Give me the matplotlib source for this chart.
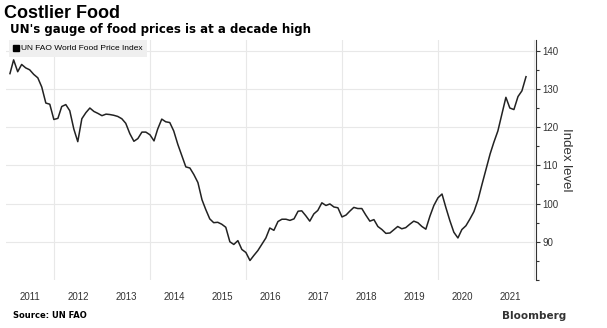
import numpy as np
import pandas as pd
import matplotlib
matplotlib.use("Agg")
import matplotlib.pyplot as plt
import matplotlib.dates as mdates
from matplotlib.lines import Line2D
from matplotlib.ticker import FixedLocator

# FAO Food Price Index, monthly, Jan 2011 - Oct 2021
idx_2011 = [134.0, 137.6, 134.5, 136.4, 135.5, 135.0, 133.8, 132.9, 130.5, 126.3, 126.0, 122.0]
idx_2012 = [122.3, 125.4, 125.9, 124.3, 119.5, 116.2, 122.2, 123.8, 125.0, 124.1, 123.6, 123.0]
idx_2013 = [123.4, 123.3, 123.1, 122.8, 122.2, 121.0, 118.3, 116.3, 117.0, 118.7, 118.7, 118.0]
idx_2014 = [116.4, 119.5, 122.1, 121.4, 121.2, 119.0, 115.5, 112.5, 109.6, 109.3, 107.6, 105.5]
idx_2015 = [101.0, 98.5, 96.0, 95.0, 95.1, 94.6, 93.8, 90.0, 89.3, 90.3, 88.0, 87.2]
idx_2016 = [85.1, 86.4, 87.7, 89.3, 91.0, 93.6, 93.0, 95.3, 95.9, 95.9, 95.6, 96.0]
idx_2017 = [98.0, 98.1, 96.8, 95.4, 97.3, 98.2, 100.2, 99.5, 99.9, 99.1, 98.9, 96.5]
idx_2018 = [97.0, 98.0, 99.0, 98.7, 98.7, 97.0, 95.4, 95.8, 94.0, 93.2, 92.2, 92.3]
idx_2019 = [93.2, 94.0, 93.4, 93.7, 94.6, 95.4, 95.0, 94.0, 93.3, 96.7, 99.5, 101.5]
idx_2020 = [102.5, 99.0, 95.5, 92.5, 91.0, 93.2, 94.2, 96.0, 97.9, 101.0, 105.0, 109.0]
idx_2021 = [113.0, 116.0, 119.0, 123.3, 127.8, 125.0, 124.6, 128.0, 129.5, 133.2]

values = (idx_2011 + idx_2012 + idx_2013 + idx_2014 + idx_2015 + idx_2016
          + idx_2017 + idx_2018 + idx_2019 + idx_2020 + idx_2021)
# monthly points are plotted at month end
dates = pd.date_range("2011-01-31", periods=len(values), freq="ME")

series_name = "UN FAO World Food Price Index"
y_major = [90, 100, 110, 120, 130, 140]

fig = plt.figure(figsize=(6.07, 3.28), dpi=100)
ax = fig.add_axes([6 / 607, 1 - 280 / 328, 530 / 607, 240 / 328])

ax.plot(dates, values, color="#222222", lw=1.1, solid_joinstyle="round")

ax.set_xlim(pd.Timestamp("2011-01-01"), pd.Timestamp("2022-01-15"))
ax.set_ylim(80, 142.8)

# y axis on the right
ax.yaxis.tick_right()
ax.yaxis.set_label_position("right")
ax.yaxis.set_major_locator(FixedLocator(y_major))
ax.yaxis.set_minor_locator(FixedLocator([80, 85, 95, 105, 115, 125, 135]))
ax.tick_params(axis="y", which="major", length=3, width=0.8, color="#333333",
               labelsize=7, pad=1.5, labelcolor="#333333")
ax.tick_params(axis="y", which="minor", length=2, width=0.8, color="#333333")
ax.set_ylabel("Index level", rotation=270, fontsize=9.5, color="#333333",
              labelpad=10, family="Liberation Sans")

# x axis: year labels at mid-year, grid every two years
ax.xaxis.set_major_locator(mdates.MonthLocator(bymonth=7))
ax.xaxis.set_major_formatter(mdates.DateFormatter("%Y"))
ax.xaxis.set_minor_locator(mdates.YearLocator(2))
ax.tick_params(axis="x", which="both", length=0, labelsize=7, pad=9,
               labelcolor="#333333")

for lab in ax.get_xticklabels() + ax.get_yticklabels():
    lab.set_family("Liberation Sans")

ax.grid(True, axis="y", which="major", color="#e8e8e8", lw=0.8)
ax.grid(True, axis="x", which="minor", color="#e8e8e8", lw=0.8)
ax.grid(False, axis="x", which="major")
ax.set_axisbelow(True)

for side in ["top", "left", "bottom"]:
    ax.spines[side].set_visible(False)
ax.spines["right"].set_color("#333333")
ax.spines["right"].set_linewidth(0.8)

handle = Line2D([0], [0], marker="s", color="black", linestyle="none", markersize=4)
leg = ax.legend([handle], [series_name], loc="upper left", bbox_to_anchor=(0.006, 1.0),
                prop={"family": "Liberation Sans", "size": 6}, frameon=True,
                fancybox=False, handlelength=0.6, handletextpad=0.3,
                borderpad=0.55, borderaxespad=0)
leg.get_frame().set_facecolor("#efefef")
leg.get_frame().set_edgecolor("none")
leg.get_frame().set_alpha(1)

fig.text(4 / 607, 1 - 14 / 328, "Costlier Food", fontsize=13, fontweight="bold",
         family="Liberation Sans", va="center", ha="left")
fig.text(10 / 607, 1 - 30 / 328, "UN's gauge of food prices is at a decade high",
         fontsize=8.5, fontweight="bold", family="DejaVu Sans", va="center", ha="left")
fig.text(13 / 607, 1 - 316 / 328, "Source: UN FAO", fontsize=6, fontweight="bold",
         family="DejaVu Sans", va="center", ha="left")
fig.text(566 / 607, 1 - 316 / 328, "Bloomberg", fontsize=7.5, fontweight="bold",
         family="DejaVu Sans", va="center", ha="right", color="#333333")

fig.savefig("out.png", dpi=100, facecolor="white")
